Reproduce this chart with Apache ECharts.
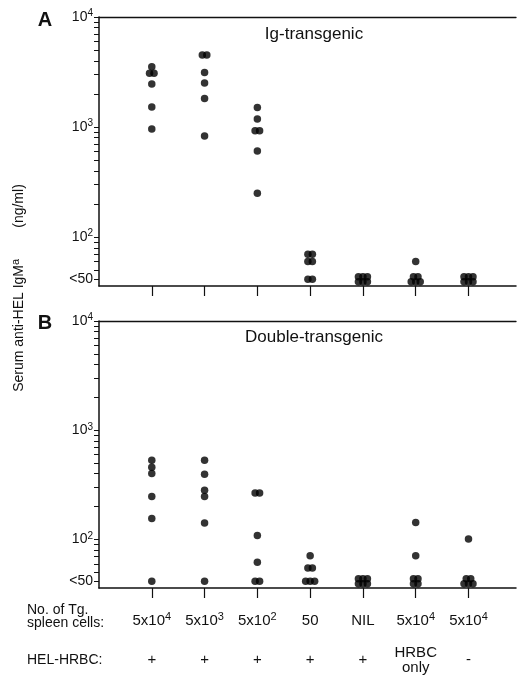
<!DOCTYPE html>
<html><head><meta charset="utf-8">
<script src="https://cdn.jsdelivr.net/npm/echarts@6/dist/echarts.min.js"></script>
<style>html,body{margin:0;padding:0;background:#fff}#c{width:517px;height:678px}</style>
</head><body><div id="c"></div>
<script>
// ---- data ----
const cellBase = ['5x10', '5x10', '5x10', '50', 'NIL', '5x10', '5x10'];
const cellExp = ['4', '3', '2', '', '', '4', '4'];
const helHrbc = ['+', '+', '+', '+', '+', 'HRBC\nonly', '-'];
const LT = '<50';
const igTransgenic = [
  [3530, 3080, 3080, 2460, 1520, 959],
  [4520, 4520, 3140, 2510, 1820, 828],
  [1510, 1183, 925, 925, 605, 250],
  [70, 70, 60, 60, LT, LT],
  [LT, LT, LT, LT, LT, LT],
  [60, LT, LT, LT, LT, LT],
  [LT, LT, LT, LT, LT, LT]
];
const doubleTransgenic = [
  [531, 458, 403, 248, 156, LT],
  [531, 395, 282, 248, 142, LT],
  [266, 266, 109, 62, LT, LT],
  [71, 55, 55, LT, LT, LT],
  [LT, LT, LT, LT, LT, LT],
  [143, 71, LT, LT, LT, LT],
  [101, LT, LT, LT, LT, LT]
];
const yLabelValues = [41.5, 100, 1000, 10000];
const yLabelBase = ['<50', '10', '10', '10'];
const yLabelExp = ['', '2', '3', '4'];

// ---- rendering ----
const LOW = 41.5;          // plotted position of "<50"
const FONT = '"Liberation Sans", Arial, Helvetica, sans-serif';
const STEP = 4.5, ROWSTEP = 5;

function buildPoints(groups) {
  const pts = [];
  groups.forEach((vals, gi) => {
    const counts = new Map();
    vals.forEach(v => counts.set(v, (counts.get(v) || 0) + 1));
    counts.forEach((n, key) => {
      const v = key === LT ? LOW : key;
      const perRow = n <= 3 ? n : Math.ceil(n / 2);
      const rows = Math.ceil(n / perRow);
      let k = 0;
      for (let r = 0; r < rows; r++) {
        const m = Math.min(perRow, n - k);
        for (let j = 0; j < m; j++) {
          pts.push({ value: [gi + 1, v], symbolOffset: [(j - (m - 1) / 2) * STEP, ((rows - 1) / 2 - r) * ROWSTEP] });
          k++;
        }
      }
    });
  });
  return pts;
}

const yTicks = [LOW];
for (let d = 10; d < 10000; d *= 10) for (let m = 1; m < 10; m++) { const t = m * d; if (t >= 50) yTicks.push(t); }
yTicks.push(10000);
const xTicks = cellBase.map((_, i) => i + 1);

const supRich = {
  b: { fontSize: 14, fontFamily: FONT, color: '#111' },
  s: { fontSize: 10, fontFamily: FONT, color: '#111', verticalAlign: 'top', padding: [0, 0, 7, 0] }
};

function yAxis(gi) {
  return {
    type: 'log', gridIndex: gi, min: 36, max: 10000,
    axisLine: { show: true, lineStyle: { color: '#111', width: 1.5 } },
    axisTick: { show: true, length: 5, customValues: yTicks, lineStyle: { color: '#111', width: 1 } },
    minorTick: { show: false },
    splitLine: { show: false },
    axisLabel: {
      customValues: yLabelValues, margin: 6,
      formatter: v => {
        const i = yLabelValues.findIndex(x => Math.abs(x - v) / x < 1e-6);
        if (i < 0) return '';
        return yLabelExp[i] ? `{b|${yLabelBase[i]}}{s|${yLabelExp[i]}}` : `{b|${yLabelBase[i]}}`;
      },
      rich: supRich
    }
  };
}
function xBase(gi) {
  return {
    type: 'value', gridIndex: gi, min: 0, max: 7.9,
    axisLine: { show: true, onZero: false, lineStyle: { color: '#111', width: 1.5 } },
    axisTick: { show: true, length: 10, customValues: xTicks, lineStyle: { color: '#111', width: 1.2 } },
    splitLine: { show: false },
    axisLabel: { show: false }
  };
}
function xTop(gi) {
  return {
    type: 'value', gridIndex: gi, min: 0, max: 7.9, position: 'top',
    axisLine: { show: true, onZero: false, lineStyle: { color: '#111', width: 1.3 } },
    axisTick: { show: false }, splitLine: { show: false }, axisLabel: { show: false }
  };
}

const xB = xBase(1);
xB.axisLabel = {
  show: true, customValues: xTicks, margin: 33, verticalAlign: 'middle',
  formatter: v => { const i = Math.round(v) - 1; return cellExp[i] ? `{b|${cellBase[i]}}{s|${cellExp[i]}}` : `{b|${cellBase[i]}}`; },
  rich: { b: { fontSize: 15, fontFamily: FONT, color: '#111' }, s: { fontSize: 11, fontFamily: FONT, color: '#111', verticalAlign: 'top', padding: [0, 0, 8, 0] } }
};
const xB2 = {
  type: 'value', gridIndex: 1, min: 0, max: 7.9, position: 'bottom',
  axisLine: { show: false, onZero: false }, axisTick: { show: false }, splitLine: { show: false },
  axisLabel: {
    show: true, customValues: xTicks, margin: 72, verticalAlign: 'middle', align: 'center',
    fontSize: 15, fontFamily: FONT, color: '#111', lineHeight: 15,
    formatter: v => helHrbc[Math.round(v) - 1]
  }
};

const chart = echarts.init(document.getElementById('c'), null, { renderer: 'canvas' });
chart.setOption({
  backgroundColor: '#fff',
  animation: false,
  grid: [
    { left: 99, right: 1, top: 17, height: 269 },
    { left: 99, right: 1, top: 321, height: 267 }
  ],
  xAxis: [xBase(0), xTop(0), xB, xTop(1), xB2],
  yAxis: [yAxis(0), yAxis(1)],
  series: [
    { type: 'scatter', xAxisIndex: 0, yAxisIndex: 0, symbol: 'circle', symbolSize: 7.5, itemStyle: { color: '#000' }, data: buildPoints(igTransgenic) },
    { type: 'scatter', xAxisIndex: 2, yAxisIndex: 1, symbol: 'circle', symbolSize: 7.5, itemStyle: { color: '#000' }, data: buildPoints(doubleTransgenic) }
  ],
  graphic: [
    { type: 'text', x: 314, y: 34, style: { text: 'Ig-transgenic', font: '17px ' + FONT, fill: '#111', textAlign: 'center', textVerticalAlign: 'middle' } },
    { type: 'text', x: 314, y: 337, style: { text: 'Double-transgenic', font: '17px ' + FONT, fill: '#111', textAlign: 'center', textVerticalAlign: 'middle' } },
    { type: 'text', x: 45, y: 20, style: { text: 'A', font: 'bold 20px ' + FONT, fill: '#111', textAlign: 'center', textVerticalAlign: 'middle' } },
    { type: 'text', x: 45, y: 323, style: { text: 'B', font: 'bold 20px ' + FONT, fill: '#111', textAlign: 'center', textVerticalAlign: 'middle' } },
    { type: 'text', x: 19, y: 288, rotation: Math.PI / 2,
      style: { text: 'Serum anti-HEL IgM{s|a}        (ng/ml)', font: '14px ' + FONT, fill: '#111', textAlign: 'center', textVerticalAlign: 'middle',
        rich: { s: { fontSize: 11, fontFamily: FONT, fill: '#111', verticalAlign: 'top', padding: [0, 0, 6, 0] } } } },
    { type: 'text', x: 27, y: 610, style: { text: 'No. of Tg.', font: '14px ' + FONT, fill: '#111', textAlign: 'left', textVerticalAlign: 'middle' } },
    { type: 'text', x: 27, y: 623, style: { text: 'spleen cells:', font: '14px ' + FONT, fill: '#111', textAlign: 'left', textVerticalAlign: 'middle' } },
    { type: 'text', x: 27, y: 660, style: { text: 'HEL-HRBC:', font: '14px ' + FONT, fill: '#111', textAlign: 'left', textVerticalAlign: 'middle' } }
  ]
});
</script></body></html>
